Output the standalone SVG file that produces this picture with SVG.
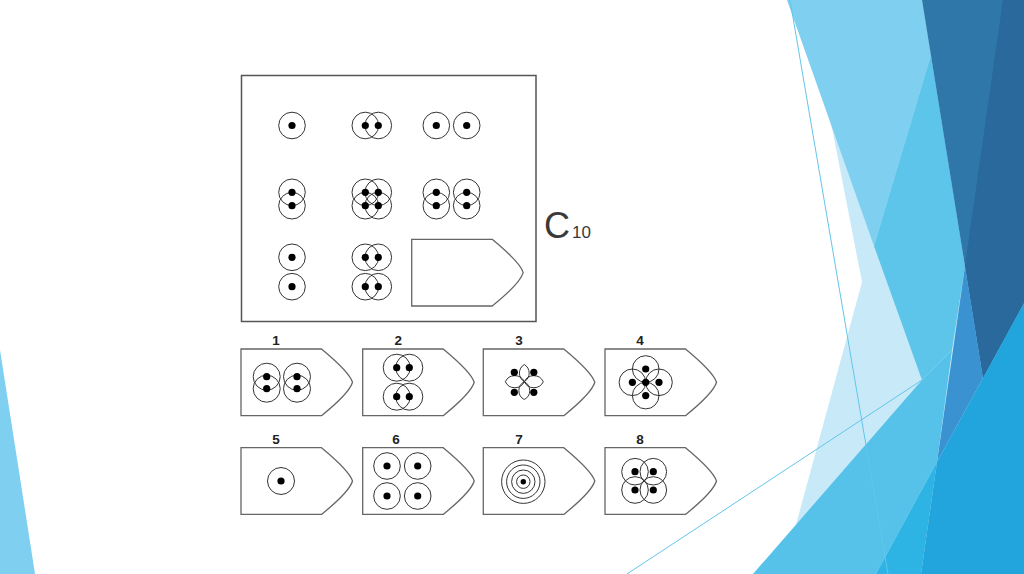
<svg xmlns="http://www.w3.org/2000/svg" xmlns:xlink="http://www.w3.org/1999/xlink" width="1024" height="574" viewBox="0 0 1024 574">
<defs>
<style>
.c{fill:none;stroke:#333;stroke-width:1}
.d{fill:#000}
.tag{fill:#fff;stroke:#666;stroke-width:1.3}
.lbl{font-family:"Liberation Sans",Arial,sans-serif;font-weight:bold;font-size:13.5px;fill:#222;text-anchor:middle}
.thin{stroke:#63c5ea;stroke-width:1;fill:none}
</style>
<path id="tagshape" d="M0,0 H80.5 C95,12 109,25 111.5,33.3 C109,42 95,55 80.5,66.7 H0 Z"/>
</defs>
<rect width="1024" height="574" fill="#fff"/>
<g id="background">
<polygon points="0,350 35,574 0,574" fill="#7ecff0"/>
<polygon points="833,133 862,282 785,565 753,574 1024,574 1024,0 800,0" fill="#c8eaf8"/>
<polygon points="787,0 922,0 931,55 874,246" fill="#7ecff0"/>
<polygon points="931,55 874,246 922,380 952,350 965,266" fill="#5ec5ea"/>
<polygon points="922,0 1024,0 1024,303 983,378" fill="#2f76a9"/>
<polygon points="1003,0 1024,0 1024,303 983,378 965,266" fill="#29699b"/>
<polygon points="965,266 983,378 937,462" fill="#3b92d1"/>
<polygon points="753,574 922,380 952,350 937,462 876,574" fill="#56c2ea"/>
<polygon points="937,462 876,574 921,574" fill="#2db3e4"/>
<polygon points="1024,303 983,378 937,462 921,574 1024,574" fill="#22a5dc"/>
<line class="thin" x1="790" y1="0" x2="888" y2="574"/>
<line class="thin" x1="627" y1="574" x2="922" y2="380"/>
</g>
<g id="matrix">
<rect x="241.5" y="75.5" width="294.5" height="246" fill="none" stroke="#555" stroke-width="1.5"/>
<g id="m11">
<circle class="c" cx="292" cy="125.5" r="13.3"/><circle class="d" cx="292" cy="125.5" r="3.6"/>
</g>
<g id="m12">
<circle class="c" cx="365.3" cy="125.5" r="13.3"/><circle class="c" cx="378.3" cy="125.5" r="13.3"/>
<circle class="d" cx="365.3" cy="125.5" r="3.6"/><circle class="d" cx="378.3" cy="125.5" r="3.6"/>
</g>
<g id="m13">
<circle class="c" cx="436.3" cy="125.5" r="13.3"/><circle class="c" cx="466.7" cy="125.5" r="13.3"/>
<circle class="d" cx="436.3" cy="125.5" r="3.6"/><circle class="d" cx="466.7" cy="125.5" r="3.6"/>
</g>
<g id="m21">
<circle class="c" cx="292" cy="192.3" r="13.3"/><circle class="c" cx="292" cy="205.7" r="13.3"/>
<circle class="d" cx="292" cy="192.3" r="3.6"/><circle class="d" cx="292" cy="205.7" r="3.6"/>
</g>
<g id="m22">
<circle class="c" cx="365.3" cy="192.3" r="13.3"/><circle class="c" cx="378.3" cy="192.3" r="13.3"/>
<circle class="c" cx="365.3" cy="205.7" r="13.3"/><circle class="c" cx="378.3" cy="205.7" r="13.3"/>
<circle class="d" cx="365.3" cy="192.3" r="3.6"/><circle class="d" cx="378.3" cy="192.3" r="3.6"/>
<circle class="d" cx="365.3" cy="205.7" r="3.6"/><circle class="d" cx="378.3" cy="205.7" r="3.6"/>
</g>
<g id="m23">
<circle class="c" cx="436.3" cy="192.3" r="13.3"/><circle class="c" cx="436.3" cy="205.7" r="13.3"/>
<circle class="c" cx="466.7" cy="192.3" r="13.3"/><circle class="c" cx="466.7" cy="205.7" r="13.3"/>
<circle class="d" cx="436.3" cy="192.3" r="3.6"/><circle class="d" cx="436.3" cy="205.7" r="3.6"/>
<circle class="d" cx="466.7" cy="192.3" r="3.6"/><circle class="d" cx="466.7" cy="205.7" r="3.6"/>
</g>
<g id="m31">
<circle class="c" cx="292" cy="257.3" r="13.3"/><circle class="c" cx="292" cy="286.7" r="13.3"/>
<circle class="d" cx="292" cy="257.3" r="3.6"/><circle class="d" cx="292" cy="286.7" r="3.6"/>
</g>
<g id="m32">
<circle class="c" cx="365.3" cy="257.3" r="13.3"/><circle class="c" cx="378.3" cy="257.3" r="13.3"/>
<circle class="c" cx="365.3" cy="286.7" r="13.3"/><circle class="c" cx="378.3" cy="286.7" r="13.3"/>
<circle class="d" cx="365.3" cy="257.3" r="3.6"/><circle class="d" cx="378.3" cy="257.3" r="3.6"/>
<circle class="d" cx="365.3" cy="286.7" r="3.6"/><circle class="d" cx="378.3" cy="286.7" r="3.6"/>
</g>
<g id="m33">
<use xlink:href="#tagshape" href="#tagshape" class="tag" x="411.7" y="239.3"/>
</g>
</g>
<g id="title">
<text x="544" y="238" font-family="'Liberation Sans',Arial,sans-serif" font-size="36" fill="#3a3a3a">C</text>
<text x="572" y="238" font-family="'Liberation Sans',Arial,sans-serif" font-size="17" fill="#3a3a3a">10</text>
</g>
<g id="answer1">
<text class="lbl" x="276" y="345">1</text>
<use xlink:href="#tagshape" href="#tagshape" class="tag" x="241" y="349"/>
<circle class="c" cx="266.7" cy="376.7" r="13.5"/><circle class="c" cx="266.7" cy="388.7" r="13.5"/>
<circle class="c" cx="297" cy="376.7" r="13.5"/><circle class="c" cx="297" cy="388.7" r="13.5"/>
<circle class="d" cx="266.7" cy="376.7" r="3.6"/><circle class="d" cx="266.7" cy="388.7" r="3.6"/>
<circle class="d" cx="297" cy="376.7" r="3.6"/><circle class="d" cx="297" cy="388.7" r="3.6"/>
</g>
<g id="answer2">
<text class="lbl" x="398.3" y="345">2</text>
<use xlink:href="#tagshape" href="#tagshape" class="tag" x="362.7" y="349"/>
<circle class="c" cx="396.7" cy="367.7" r="13.5"/><circle class="c" cx="409.3" cy="367.7" r="13.5"/>
<circle class="c" cx="396.7" cy="396.7" r="13.5"/><circle class="c" cx="409.3" cy="396.7" r="13.5"/>
<circle class="d" cx="396.7" cy="367.7" r="3.6"/><circle class="d" cx="409.3" cy="367.7" r="3.6"/>
<circle class="d" cx="396.7" cy="396.7" r="3.6"/><circle class="d" cx="409.3" cy="396.7" r="3.6"/>
</g>
<g id="answer3">
<text class="lbl" x="519" y="345">3</text>
<use xlink:href="#tagshape" href="#tagshape" class="tag" x="483.3" y="349"/>
<path class="c" d="M524.3,381.7 A10,10 0 0 1 524.3,364.5 A10,10 0 0 1 524.3,381.7 Z M524.3,381.7 A10,10 0 0 1 524.3,399.5 A10,10 0 0 1 524.3,381.7 Z M524.3,381.7 A10.5,10.5 0 0 1 505.3,381.7 A10.5,10.5 0 0 1 524.3,381.7 Z M524.3,381.7 A10.5,10.5 0 0 1 543.3,381.7 A10.5,10.5 0 0 1 524.3,381.7 Z"/>
<circle class="d" cx="514.3" cy="372.3" r="3.6"/><circle class="d" cx="533.8" cy="372.3" r="3.6"/>
<circle class="d" cx="514.3" cy="392.3" r="3.6"/><circle class="d" cx="533.8" cy="392.3" r="3.6"/>
</g>
<g id="answer4">
<text class="lbl" x="640" y="345">4</text>
<use xlink:href="#tagshape" href="#tagshape" class="tag" x="605" y="349"/>
<circle class="c" cx="645.7" cy="369" r="13.3"/><circle class="c" cx="645.7" cy="395.6" r="13.3"/>
<circle class="c" cx="632.4" cy="382.3" r="13.3"/><circle class="c" cx="659" cy="382.3" r="13.3"/>
<circle class="d" cx="645.7" cy="382.3" r="3.6"/>
<circle class="d" cx="645.7" cy="369" r="3.6"/><circle class="d" cx="645.7" cy="395.6" r="3.6"/>
<circle class="d" cx="632.4" cy="382.3" r="3.6"/><circle class="d" cx="659" cy="382.3" r="3.6"/>
</g>
<g id="answer5">
<text class="lbl" x="276" y="444">5</text>
<use xlink:href="#tagshape" href="#tagshape" class="tag" x="241" y="447.7"/>
<circle class="c" cx="281" cy="481" r="13.5"/><circle class="d" cx="281" cy="481" r="3.6"/>
</g>
<g id="answer6">
<text class="lbl" x="396" y="444">6</text>
<use xlink:href="#tagshape" href="#tagshape" class="tag" x="362.7" y="447.7"/>
<circle class="c" cx="387" cy="466" r="13.3"/><circle class="c" cx="417.7" cy="466" r="13.3"/>
<circle class="c" cx="387" cy="496" r="13.3"/><circle class="c" cx="417.7" cy="496" r="13.3"/>
<circle class="d" cx="387" cy="466" r="3.6"/><circle class="d" cx="417.7" cy="466" r="3.6"/>
<circle class="d" cx="387" cy="496" r="3.6"/><circle class="d" cx="417.7" cy="496" r="3.6"/>
</g>
<g id="answer7">
<text class="lbl" x="519" y="444">7</text>
<use xlink:href="#tagshape" href="#tagshape" class="tag" x="483.3" y="447.7"/>
<circle class="c" cx="523.3" cy="481.7" r="21.7"/><circle class="c" cx="523.3" cy="481.7" r="16.7"/>
<circle class="c" cx="523.3" cy="481.7" r="11.7"/><circle class="c" cx="523.3" cy="481.7" r="6.7"/>
<circle class="d" cx="523.3" cy="481.7" r="2.7"/>
</g>
<g id="answer8">
<text class="lbl" x="640" y="444">8</text>
<use xlink:href="#tagshape" href="#tagshape" class="tag" x="605" y="447.7"/>
<circle class="c" cx="635" cy="471.7" r="13.3"/><circle class="c" cx="653.3" cy="471.7" r="13.3"/>
<circle class="c" cx="635" cy="490" r="13.3"/><circle class="c" cx="653.3" cy="490" r="13.3"/>
<circle class="d" cx="635" cy="471.7" r="3.6"/><circle class="d" cx="653.3" cy="471.7" r="3.6"/>
<circle class="d" cx="635" cy="490" r="3.6"/><circle class="d" cx="653.3" cy="490" r="3.6"/>
</g>
<g id="connectors"></g>
</svg>
